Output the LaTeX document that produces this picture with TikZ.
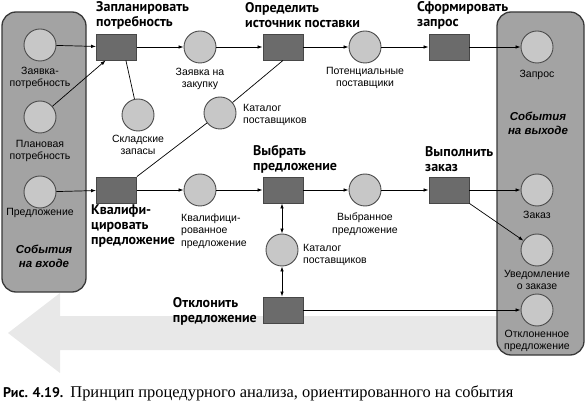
\documentclass[tikz,border=0pt]{standalone}
\usepackage{fontspec}
\setmainfont{Liberation Serif}
\setsansfont{Liberation Sans}
\newfontfamily\headfont{PT Sans}
\usepackage{tikz}
\usetikzlibrary{arrows.meta,shapes,calc}
\pgfdeclarelayer{bg}
\pgfsetlayers{bg,main}

\begin{document}
\begin{tikzpicture}[x = 1pt, y = -1pt,
    place/.style = {circle, draw = black!70, fill = black!22, line width = .9pt, minimum size = 32pt, inner sep = 0pt},
    trans/.style = {rectangle, draw = black!72, fill = black!58, line width = .9pt, minimum width = 40pt, minimum height = 26pt, inner sep = 0pt},
    lbl/.style = {font = \sffamily\fontsize{10.5}{12.5}\selectfont, align = center, inner sep = 0pt},
    ttl/.style = {font = \headfont\bfseries\fontsize{14}{15}\selectfont, align = left, inner sep = 0pt},
    side/.style = {font = \sffamily\bfseries\itshape\fontsize{11.5}{14}\selectfont, align = center, inner sep = 0pt},
    panel/.style = {draw = black!78, fill = black!36, line width = 1.3pt, rounded corners = 14pt},
    flow/.style = {-{Latex[length = 5pt, width = 3.5pt]}, line width = .7pt},
    both/.style = {{Latex[length = 5pt, width = 3.5pt]}-{Latex[length = 5pt, width = 3.5pt]}, line width = .7pt},
    link/.style = {line width = .7pt}]
    \useasboundingbox (0,0) rectangle (586,403);
    % Big arrow in the back
    \fill[black!9] (500,316) -- (60,316) -- (60,293) -- (8,333) -- (60,373) -- (60,350) -- (500,350) -- cycle;
    % Panels
    \draw[panel] (2,12) rectangle (86,292);
    \draw[panel] (497,12) rectangle (584,355);
    % Input events
    \node[place] (req) at (40,45) {};
    \node[place] (plannd) at (40,117) {};
    \node[place] (offer) at (40,192) {};
    \node[lbl] (req-l) at (40,78) {Заявка-\\потребность};
    \node[lbl] (plannd-l) at (40,151) {Плановая\\потребность};
    \node[lbl] (offer-l) at (40,213) {Предложение};
    \node[side] (in-l) at (44,256) {События\\на входе};
    % Upper row
    \node[trans] (plan) at (116.5,47) {};
    \node[place] (purch) at (200,47) {};
    \node[trans] (src) at (283,47) {};
    \node[place] (cand) at (365,47) {};
    \node[trans] (rfq) at (449,47) {};
    \node[place] (stock) at (138,115) {};
    \node[place] (cat1) at (220,113) {};
    \node[ttl, anchor = west] (plan-t) at (96,15) {Запланировать\\потребность};
    \node[ttl, anchor = west] (src-t) at (245,15) {Определить\\источник поставки};
    \node[ttl, anchor = west] (rfq-t) at (417,15) {Сформировать\\запрос};
    \node[lbl] (purch-l) at (200,79) {Заявка на\\закупку};
    \node[lbl] (cand-l) at (365,78) {Потенциальные\\поставщики};
    \node[lbl] (stock-l) at (138,145) {Складские\\запасы};
    \node[lbl, align = left, anchor = west] (cat1-l) at (243,115) {Каталог\\поставщиков};
    % Lower row
    \node[trans] (qual) at (116.5,190) {};
    \node[place] (qoffer) at (200,190) {};
    \node[trans] (pick) at (283,190) {};
    \node[place] (chosen) at (365,190) {};
    \node[trans] (exe) at (449,190) {};
    \node[place] (cat2) at (282,250) {};
    \node[trans] (rej) at (283,310) {};
    \node[ttl, anchor = north west] (qual-t) at (91,205) {Квалифи-\\цировать\\предложение};
    \node[ttl, anchor = west] (pick-t) at (253,159) {Выбрать\\предложение};
    \node[ttl, anchor = west] (exe-t) at (425,159) {Выполнить\\заказ};
    \node[ttl, anchor = east] (rej-t) at (257,311) {Отклонить\\предложение};
    \node[lbl, align = left, anchor = west] (qoffer-l) at (181,231) {Квалифици-\\рованное\\предложение};
    \node[lbl] (chosen-l) at (365,224) {Выбранное\\предложение};
    \node[lbl, align = left, anchor = west] (cat2-l) at (303,255) {Каталог\\поставщиков};
    % Output events
    \node[place] (rfq-o) at (537,47) {};
    \node[place] (order) at (537,190) {};
    \node[place] (notif) at (537,250) {};
    \node[place] (rejd) at (537,310) {};
    \node[lbl] (rfq-ol) at (537,75) {Запрос};
    \node[side] (out-l) at (538,123) {События\\на выходе};
    \node[lbl] (order-l) at (537,215) {Заказ};
    \node[lbl] (notif-l) at (537,280) {Уведомление\\о заказе};
    \node[lbl] (rejd-l) at (537,341) {Отклоненное\\предложение};
    % Connectors
    \draw[flow] (req) -- (plan);
    \draw[flow] (plannd) -- (plan.-129);
    \draw[link] (stock) -- (plan.-55);
    \draw[flow] (plan) -- (purch);
    \draw[flow] (purch) -- (src);
    \draw[flow] (src) -- (cand);
    \draw[flow] (cand) -- (rfq);
    \draw[flow] (rfq) -- (rfq-o);
    \draw[link] (qual.north east) -- (cat1);
    \draw[link] (cat1) -- (src.south);
    \draw[flow] (offer) -- (qual);
    \draw[flow] (qual) -- (qoffer);
    \draw[flow] (qoffer) -- (pick);
    \draw[flow] (pick) -- (chosen);
    \draw[flow] (chosen) -- (exe);
    \draw[flow] (exe) -- (order);
    \draw[flow] (exe.south east) -- (notif);
    \draw[both] (pick.south -| cat2) -- (cat2);
    \draw[both] (cat2) -- (rej.north -| cat2);
    \draw[flow] (rej) -- (rejd);
    % Caption
    \node[anchor = west, inner sep = 0pt] (cap) at (3,393) {{\headfont\bfseries\fontsize{14}{16}\selectfont Рис. 4.19.}\hspace{7pt}{\fontsize{16.4}{18}\selectfont Принцип процедурного анализа, ориентированного на события}};
\end{tikzpicture}
\end{document}
